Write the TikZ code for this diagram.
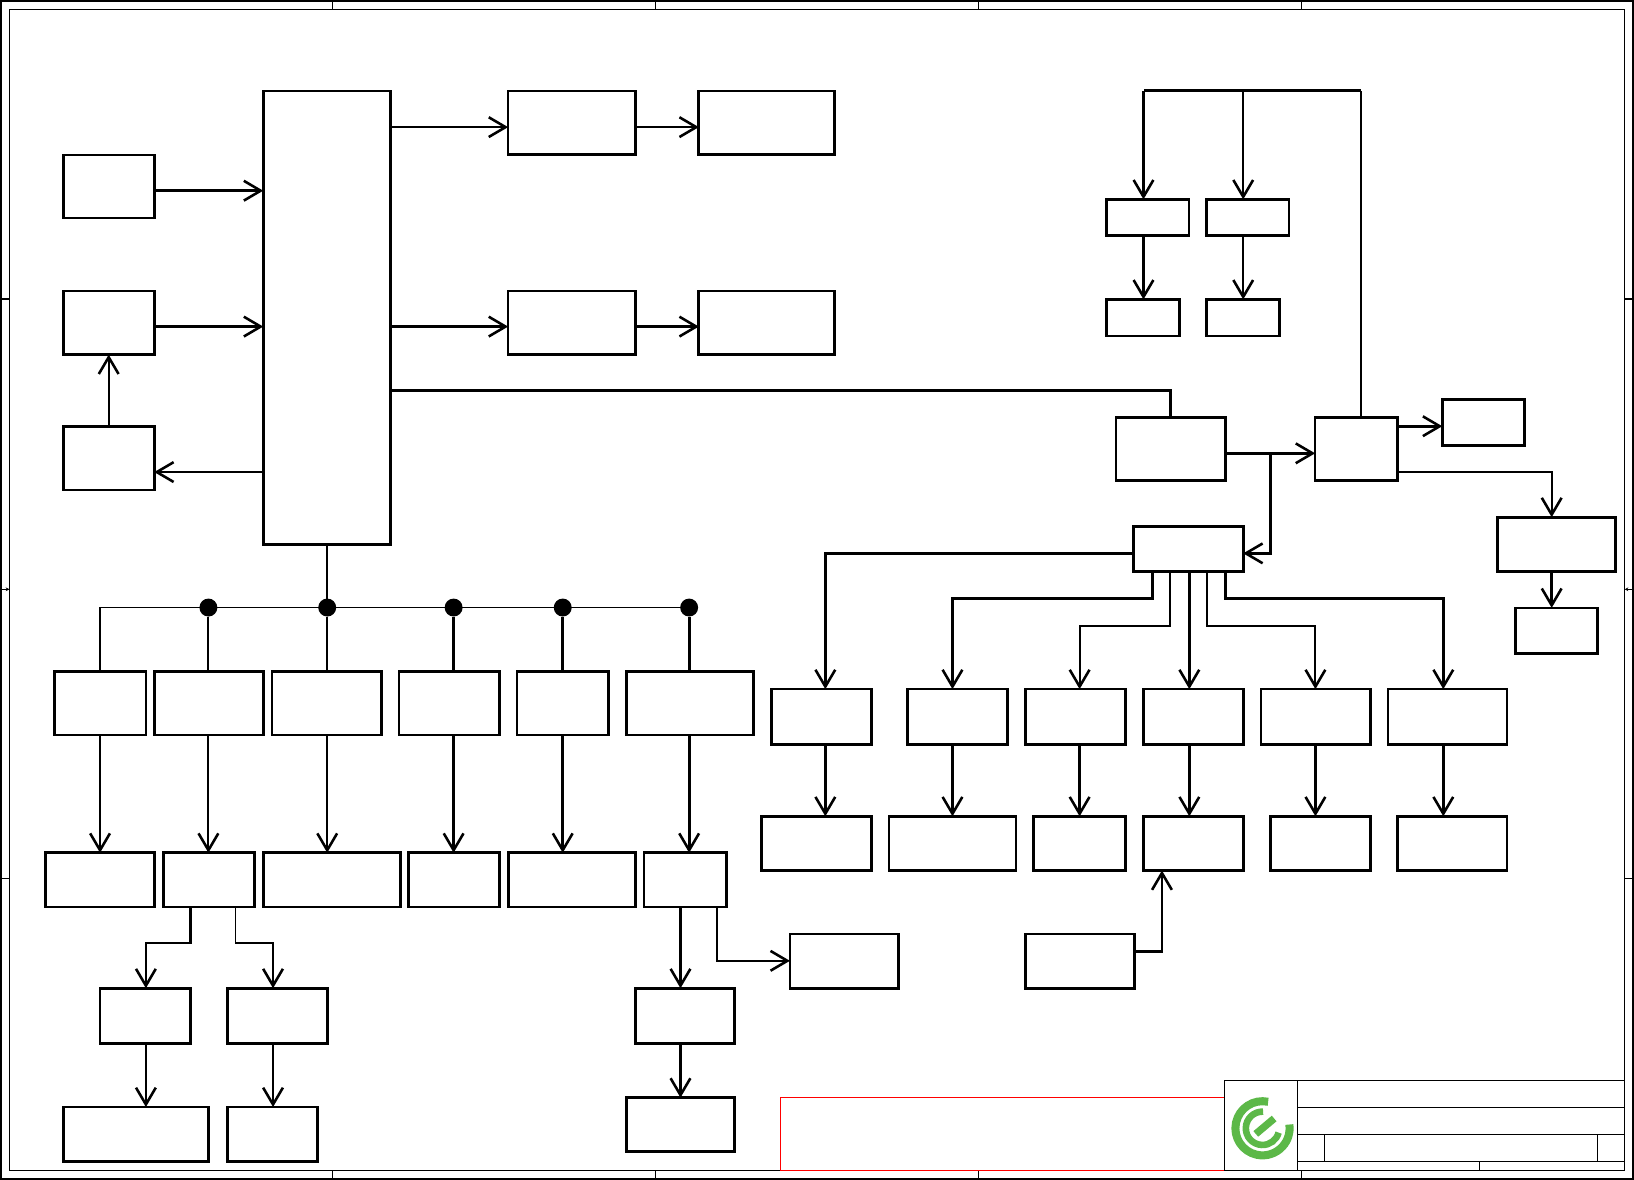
\documentclass[tikz,border=0pt]{standalone}
\usetikzlibrary{arrows.meta}
\definecolor{logogreen}{RGB}{92,184,72}
\tikzset{
  blk/.style={draw, line width=3.7pt, inner sep=0pt, outer sep=0pt},
  fine/.style={line width=1.9pt, line cap=butt},
  wire/.style={line width=2.6pt, line join=miter},
  bold/.style={line width=3.8pt, line join=miter},
  tip/.style={-{Straight Barb[length=23pt,width=27pt,line width=3.5pt]}},
  dot/.style={circle, fill=black, inner sep=0pt, outer sep=0pt, minimum size=24.5pt},
  logoarc/.style={draw=logogreen, line cap=butt},
}
\begin{document}
\begin{tikzpicture}[x=0.05cm, y=-0.05cm, line join=miter]
    \useasboundingbox (0,0) rectangle (1568,1132.3);
    % sheet frame
    \draw[fine] (1,1) rectangle (1567,1131.4);
    \draw[fine] (9,9) rectangle (1559,1123);
    \foreach \x in {319,629,939,1249} {
        \draw[fine] (\x,1)--(\x,9);
        \draw[fine] (\x,1123)--(\x,1131.4);
    }
    \foreach \y in {287,843} {
        \draw[fine] (1,\y)--(9,\y);
        \draw[fine] (1559,\y)--(1567,\y);
    }
    \draw[fine, -{Stealth[length=5pt,width=5pt]}] (1,565.5)--(9,565.5);
    \draw[fine, -{Stealth[length=5pt,width=5pt]}] (1567,565.5)--(1559,565.5);
    % all blocks, name/left/top/right/bottom
    \foreach \n/\xa/\ya/\xb/\yb in {
        main/252.6/87/374.6/522, a1/60.6/148.5/148/209, a2/60.6/279/148/340, a3/60.6/409/148/470,
        b1/487.6/87/610/148, b2/670.6/87/801/148, b3/487.6/279/610/340, b4/670.6/279/801/340,
        c1/1062/191/1141/226, c2/1158/191/1237/226, c3/1062/287/1132/322, c4/1158/287/1228/322,
        d1/1071/400.5/1176/461, d2/1262/400.5/1341/461, d3/1384/383/1463/427,
        d4/1437/496/1550/548, d5/1454/583/1533/627, e/1088/505/1193/548,
        f1/52/644/140/705, f2/148/644/253/705, f3/261/644/366/705,
        f4/383/644/479/705, f5/496/644/584/705, f6/601/644/723/705,
        g1/44/818/148/870, g2/157/818/244/870, g3/253/818/384/870,
        g4/392/818/479/870, g5/488/818/610/870, g6/618/818/697/870,
        h1/96/948/183/1001, h2/218/948/314/1001, h3/61/1062/200/1114, h4/218/1062/305/1114,
        i1/610/948/705/1001, i2/601/1053/705/1105, i3/758/896/862/948,
        j1/740/661/836/714, j2/871/661/967/714, j3/984/661/1080/714,
        j4/1097/661/1193/714, j5/1210/661/1315/714, j6/1332/661/1446/714,
        k1/731/783/836/835, k2/853/783/975/835, k3/992/783/1080/835,
        k4/1097/783/1193/835, k5/1219/783/1315/835, k6/1341/783/1446/835,
        l/984/896/1089/948}
        \node[blk, minimum width={(\xb-\xa)*0.05cm}, minimum height={(\yb-\ya)*0.05cm}]
            (\n) at ({(\xa+\xb)/2},{(\ya+\yb)/2+0.3}) {};
    % left side
    \foreach \p/\q/\y/\s in {a1/main/183/bold, a2/main/313.4/bold, main/b3/313.4/bold, b3/b4/313.4/bold,
        main/b1/122/wire, b1/b2/122/wire}
        \draw[\s, tip] (\p.east |- 0,\y)--(\q.west |- 0,\y);
    \draw[wire, tip] (main.west |- 0,453)--(a3.east |- 0,453);
    \draw[wire, tip] (a3.north)--(a2.south);
    % bus below the main block
    \coordinate (busl) at (96,583);
    \coordinate (busr) at (661,583);
    \draw[wire] (main.south)--(main.south |- busl);
    \draw[wire] (f1.north -| busl)--(busl)--(busr);
    \foreach \x/\n/\s in {200/f2/wire,314/f3/wire,435.3/f4/bold,540/f5/bold,661.3/f6/bold} {
        \node[dot] (bus\n) at (\x,583) {};
        \draw[\s] (bus\n)--(\n.north -| bus\n);
    }
    \foreach \p/\q/\x/\s in {f1/g1/96/wire, f2/g2/200/wire, f3/g3/314/wire, f4/g4/435.3/bold,
        f5/g5/540/bold, f6/g6/661.3/bold, g6/i1/653/bold, i1/i2/653/bold,
        j1/k1/792/bold, j2/k2/914/bold, j3/k3/1036/bold, j4/k4/1141.3/bold, j5/k5/1262.3/bold, j6/k6/1385/bold,
        c1/c3/1097.3/bold, c2/c4/1193/wire, d4/d5/1489/bold}
        \draw[\s, tip] (\p.south -| \x,0)--(\q.north -| \x,0);
    \draw[bold, tip] (h1.south -| 140,0)--(h3.north -| 140,0);
    \draw[bold, tip] (h2.south -| 262,0)--(h4.north -| 262,0);
    \draw[bold, tip] (g2.south -| 183,0)--(183,905)--(140,905)--(h1.north -| 140,0);
    \draw[wire, tip] (g2.south -| 226,0)--(226,905)--(262,905)--(h2.north -| 262,0);
    \draw[wire, tip] (g6.south -| 688,0)--(688,922)--(i3.west |- 0,922);
    \draw[bold, tip] (l.east |- 0,913)--(1115,913)--(k4.south -| 1115,0);
    % right side
    \draw[bold] (main.east |- 0,374.4)--(d1.north |- 0,374.4)--(d1.north);
    \draw[bold, tip] (d1.east |- 0,435)--(d2.west |- 0,435);
    \draw[bold, tip] (1219,435)--(1219,531)--(e.east |- 0,531);
    \draw[bold, tip] (d2.east |- 0,409)--(d3.west |- 0,409);
    \draw[wire, tip] (d2.east |- 0,453)--(1489,453)--(d4.north -| 1489,0);
    \draw[wire] (d2.north -| 1306,0)--(1306,87);
    \draw[bold] (1306,87)--(1097.3,87);
    \draw[bold, tip] (1097.3,87)--(c1.north -| 1097.3,0);
    \draw[wire, tip] (1193,87)--(c2.north -| 1193,0);
    \draw[bold, tip] (e.west |- 0,531)--(792,531)--(j1.north -| 792,0);
    \draw[bold, tip] (e.south -| 1106,0)--(1106,574.3)--(914,574.3)--(j2.north -| 914,0);
    \draw[wire, tip] (e.south -| 1123,0)--(1123,600.3)--(1036,600.3)--(j3.north -| 1036,0);
    \draw[bold, tip] (e.south -| 1141.3,0)--(j4.north -| 1141.3,0);
    \draw[wire, tip] (e.south -| 1158,0)--(1158,600.3)--(1262.3,600.3)--(j5.north -| 1262.3,0);
    \draw[bold, tip] (e.south -| 1176,0)--(1176,574.3)--(1385,574.3)--(j6.north -| 1385,0);
    % title block
    \draw[red, fine] (1175,1053) -| (749,1123) -- (1175,1123);
    \draw[fine] (1175,1036.7) rectangle (1559,1123);
    \draw[fine] (1245,1036.7)--(1245,1123);
    \foreach \y in {1062.5,1088.5,1114.3}\draw[fine] (1245,\y)--(1559,\y);
    \foreach \x in {1271,1533}\draw[fine] (\x,1088.5)--(\x,1114.3);
    \draw[fine] (1419.5,1114.3)--(1419.5,1123);
    % logo
    \coordinate (logoc) at (1211.5,1082.7);
    \draw[logoarc, line width=11pt] (logoc) ++(78:1.3cm) arc[start angle=78, end angle=368, radius=1.3cm];
    \draw[logoarc, line width=9pt] (logoc) ++(88:0.8cm) arc[start angle=88, end angle=345, radius=0.8cm];
    \draw[logoarc, line width=10pt] (logoc) ++(-140:0.42cm) -- ++(40:1.15cm);
\end{tikzpicture}
\end{document}
